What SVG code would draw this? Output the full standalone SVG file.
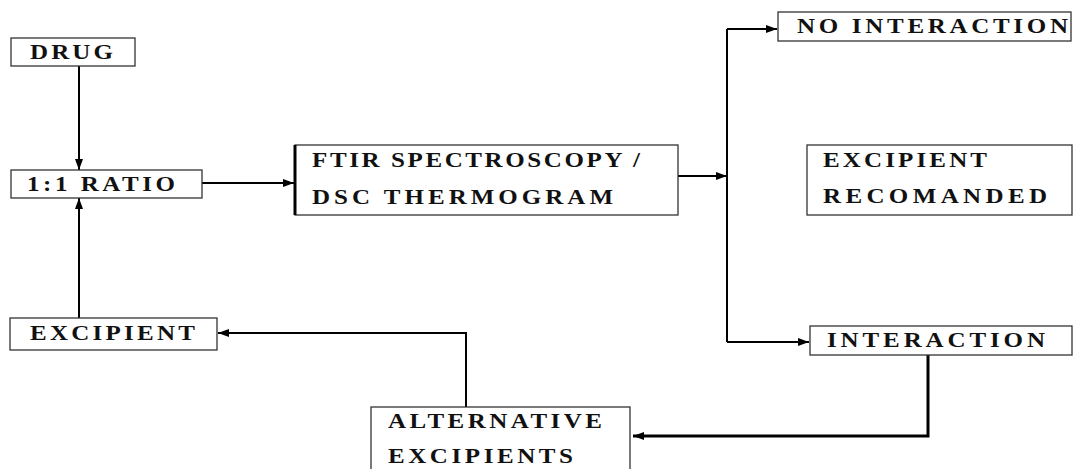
<svg xmlns="http://www.w3.org/2000/svg" width="1073" height="469" viewBox="0 0 1073 469">
<defs>
<marker id="ah" markerUnits="userSpaceOnUse" markerWidth="12" markerHeight="10" refX="11" refY="5" orient="auto">
<path d="M0,1 L11,5 L0,9 Z" fill="#000"/>
</marker>
<style>
.box{fill:#fff;stroke:#333;stroke-width:1.3}
.t{font-family:"Liberation Serif","Times New Roman",serif;font-weight:bold;font-size:20px;fill:#111}
.c{fill:none;stroke:#000;stroke-width:2}
.c3{fill:none;stroke:#000;stroke-width:3}
</style>
</defs>
<rect width="1073" height="469" fill="#fff"/>
<g id="connectors">
<path class="c" d="M79,66 V170" marker-end="url(#ah)"/>
<path class="c" d="M79,318 V198" marker-end="url(#ah)"/>
<path class="c" d="M202,183 H294" marker-end="url(#ah)"/>
<path class="c" d="M678,176 H727" marker-end="url(#ah)"/>
<path class="c" d="M727,29 V342"/>
<path class="c" d="M727,29 H777" marker-end="url(#ah)"/>
<path class="c" d="M727,342 H809" marker-end="url(#ah)"/>
<path class="c3" d="M928,355 V436 H633" marker-end="url(#ah)"/>
<path class="c" d="M466,407 V333 H218" marker-end="url(#ah)"/>
</g>
<g id="drug">
<rect class="box" x="11" y="38" width="124" height="28"/>
<text class="t" transform="translate(30 59) scale(1.25 1)" textLength="66.4" lengthAdjust="spacing">DRUG</text>
</g>
<g id="ratio">
<rect class="box" x="11" y="170" width="191" height="28"/>
<text class="t" transform="translate(27 191) scale(1.25 1)" textLength="118.4" lengthAdjust="spacing">1:1 RATIO</text>
</g>
<g id="ftir">
<rect class="box" x="295" y="145" width="383" height="70"/>
<line x1="295" y1="145" x2="295" y2="215" stroke="#000" stroke-width="3"/>
<text class="t" transform="translate(312 167) scale(1.25 1)" textLength="262.4" lengthAdjust="spacing">FTIR SPECTROSCOPY /</text>
<text class="t" transform="translate(312 204) scale(1.25 1)" textLength="240.8" lengthAdjust="spacing">DSC THERMOGRAM</text>
</g>
<g id="no-interaction">
<rect class="box" x="778" y="12" width="293" height="29"/>
<text class="t" transform="translate(797 33) scale(1.25 1)" textLength="216.8" lengthAdjust="spacing">NO INTERACTION</text>
</g>
<g id="excipient-recomanded">
<rect class="box" x="807" y="145" width="265" height="70"/>
<text class="t" transform="translate(823 167) scale(1.25 1)" textLength="131.2" lengthAdjust="spacing">EXCIPIENT</text>
<text class="t" transform="translate(823 203) scale(1.25 1)" textLength="179.2" lengthAdjust="spacing">RECOMANDED</text>
</g>
<g id="excipient">
<rect class="box" x="10" y="318" width="207" height="32"/>
<text class="t" transform="translate(30 340) scale(1.25 1)" textLength="132" lengthAdjust="spacing">EXCIPIENT</text>
</g>
<g id="interaction">
<rect class="box" x="810" y="326" width="262" height="29"/>
<text class="t" transform="translate(827 347) scale(1.25 1)" textLength="174.4" lengthAdjust="spacing">INTERACTION</text>
</g>
<g id="alternative-excipients">
<rect class="box" x="371" y="407" width="259" height="70"/>
<text class="t" transform="translate(388 428) scale(1.25 1)" textLength="171.2" lengthAdjust="spacing">ALTERNATIVE</text>
<text class="t" transform="translate(388 463) scale(1.25 1)" textLength="148" lengthAdjust="spacing">EXCIPIENTS</text>
</g>
</svg>
